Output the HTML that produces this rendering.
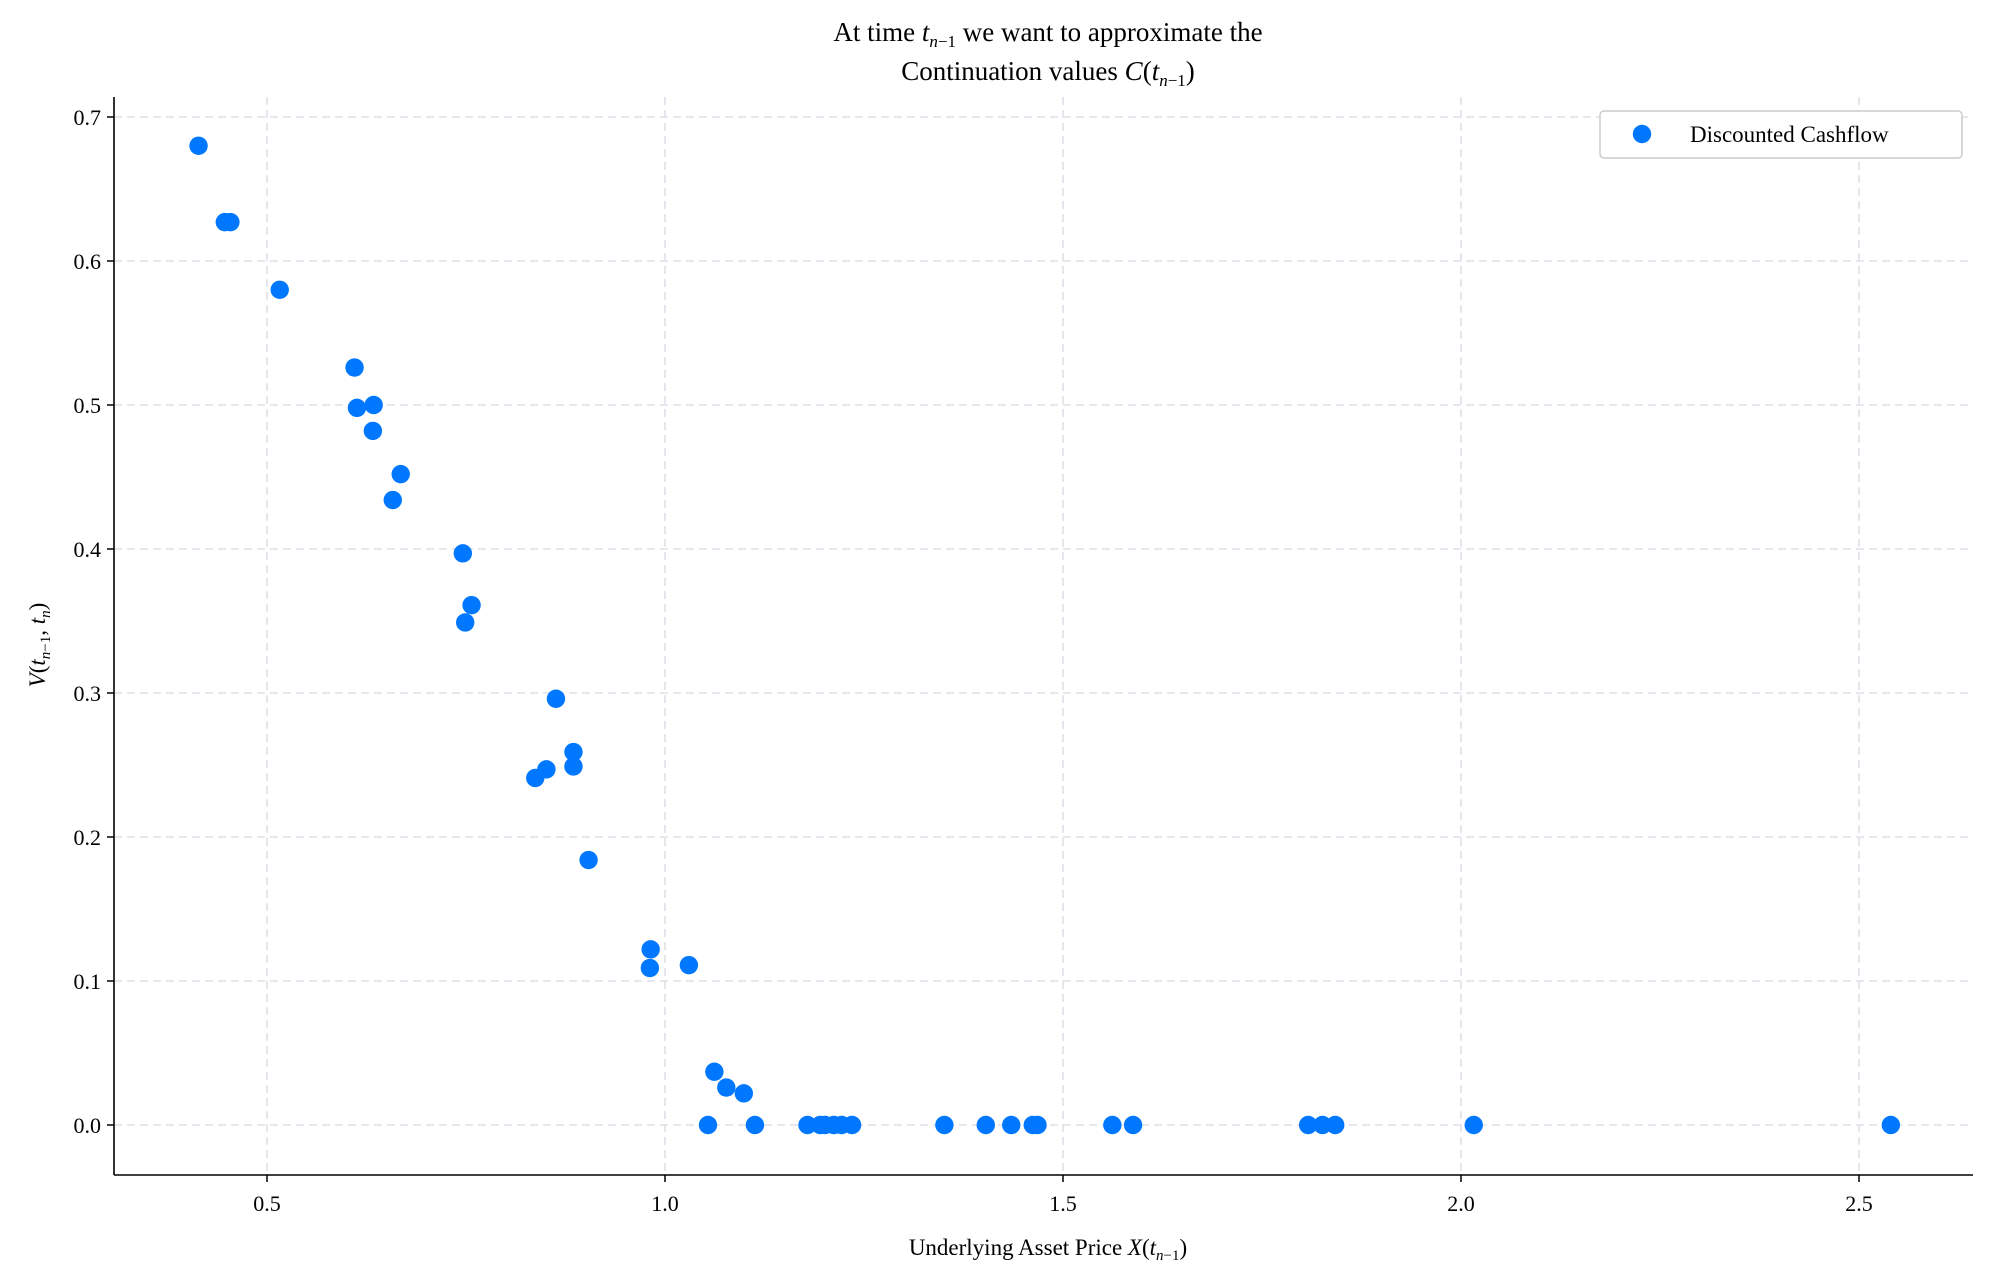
<!DOCTYPE html>
<html><head><meta charset="utf-8"><style>
body{margin:0;background:#fff}
svg{font-family:"Liberation Serif","DejaVu Serif",serif}
</style></head><body>
<svg width="1993" height="1279" viewBox="0 0 1993 1279" xmlns="http://www.w3.org/2000/svg">
<g id="grid"></g>
<g id="points"></g>
<g id="axes"></g>
<text x="1048" y="41" font-size="27" text-anchor="middle">At time <tspan font-style="italic">t</tspan><tspan font-size="17" font-style="italic" dy="6">n</tspan><tspan font-size="17" dy="0">−1</tspan><tspan dy="-6"> we want to approximate the</tspan></text>
<text x="1048" y="80" font-size="27" text-anchor="middle">Continuation values <tspan font-style="italic">C</tspan>(<tspan font-style="italic">t</tspan><tspan font-size="17" dy="6"><tspan font-style="italic">n</tspan>−1</tspan><tspan dy="-6">)</tspan></text>
<text x="1048" y="1255" font-size="23" text-anchor="middle">Underlying Asset Price <tspan font-style="italic">X</tspan>(<tspan font-style="italic">t</tspan><tspan font-size="15" dy="5"><tspan font-style="italic">n</tspan>−1</tspan><tspan dy="-5">)</tspan></text>
<text transform="translate(45,645) rotate(-90)" font-size="23" text-anchor="middle"><tspan font-style="italic">V</tspan>(<tspan font-style="italic">t</tspan><tspan font-size="15" dy="5"><tspan font-style="italic">n</tspan>−1</tspan><tspan dy="-5">, </tspan><tspan font-style="italic">t</tspan><tspan font-size="15" font-style="italic" dy="5">n</tspan><tspan dy="-5">)</tspan></text>
<g>
<rect x="1600" y="111" width="362" height="47" rx="4" fill="#fff" stroke="#ccc" stroke-width="1.5"/>
<circle cx="1642" cy="134" r="9.2" fill="#0077ff"/>
<text x="1690" y="142" font-size="23">Discounted Cashflow</text>
</g>
</svg>
<script>
const xValues=[0.414,0.447,0.454,0.516,0.610,0.613,0.634,0.633,0.668,0.658,0.746,0.749,0.757,0.863,0.837,0.851,0.885,0.885,0.904,0.982,0.981,1.030,1.062,1.077,1.099,
1.054,1.113,1.179,1.195,1.201,1.212,1.222,1.235,1.351,1.403,1.435,1.462,1.468,1.562,1.588,1.808,1.826,1.842,2.016,2.540];
const yValues=[0.680,0.627,0.627,0.580,0.526,0.498,0.500,0.482,0.452,0.434,0.397,0.349,0.361,0.296,0.241,0.247,0.259,0.249,0.184,0.122,0.109,0.111,0.037,0.026,0.022,
0,0,0,0,0,0,0,0,0,0,0,0,0,0,0,0,0,0,0,0];
const xTicks=[0.5,1.0,1.5,2.0,2.5];
const yTicks=[0.0,0.1,0.2,0.3,0.4,0.5,0.6,0.7];
const L=114,R=1973,T=97,B=1175;
const sx=v=>267+(v-0.5)*796;
const sy=v=>1125-v*1440;
const NS="http://www.w3.org/2000/svg";
function mk(tag,attrs,parent){const e=document.createElementNS(NS,tag);for(const k in attrs)e.setAttribute(k,attrs[k]);parent.appendChild(e);return e;}
const grid=document.getElementById('grid'),pts=document.getElementById('points'),axes=document.getElementById('axes');
xTicks.forEach(t=>{
 const g=mk('line',{x1:sx(t),x2:sx(t),y1:T,y2:B,stroke:'#dfe0e8','stroke-width':1.6,'stroke-dasharray':'8,5'},grid);
 
 
 const tk=mk('line',{x1:sx(t),x2:sx(t),y1:B,y2:B+7,stroke:'#000','stroke-width':1.5},axes);
 
 
 const lb=mk('text',{x:sx(t),y:B+36,'font-size':22,'text-anchor':'middle'},axes);
 lb.textContent=t.toFixed(1);
 
 
});
yTicks.forEach(t=>{
 const g=mk('line',{x1:L,x2:R,y1:sy(t),y2:sy(t),stroke:'#dfe0e8','stroke-width':1.6,'stroke-dasharray':'8,5'},grid);
 
 
 const tk=mk('line',{x1:L-7,x2:L,y1:sy(t),y2:sy(t),stroke:'#000','stroke-width':1.5},axes);
 
 
 const lb=mk('text',{x:L-13,y:sy(t)+8,'font-size':22,'text-anchor':'end'},axes);
 lb.textContent=t.toFixed(1);
 
 
});
const la=mk('line',{x1:L,x2:L,y1:T,y2:B,stroke:'#000','stroke-width':1.6},axes);


const ba=mk('line',{x1:L,x2:R,y1:B,y2:B,stroke:'#000','stroke-width':1.6},axes);


xValues.forEach((x,i)=>{
 const c=mk('circle',{cx:sx(x),cy:sy(yValues[i]),r:9.2,fill:'#0077ff'},pts);
 
 
});
</script>
</body></html>
